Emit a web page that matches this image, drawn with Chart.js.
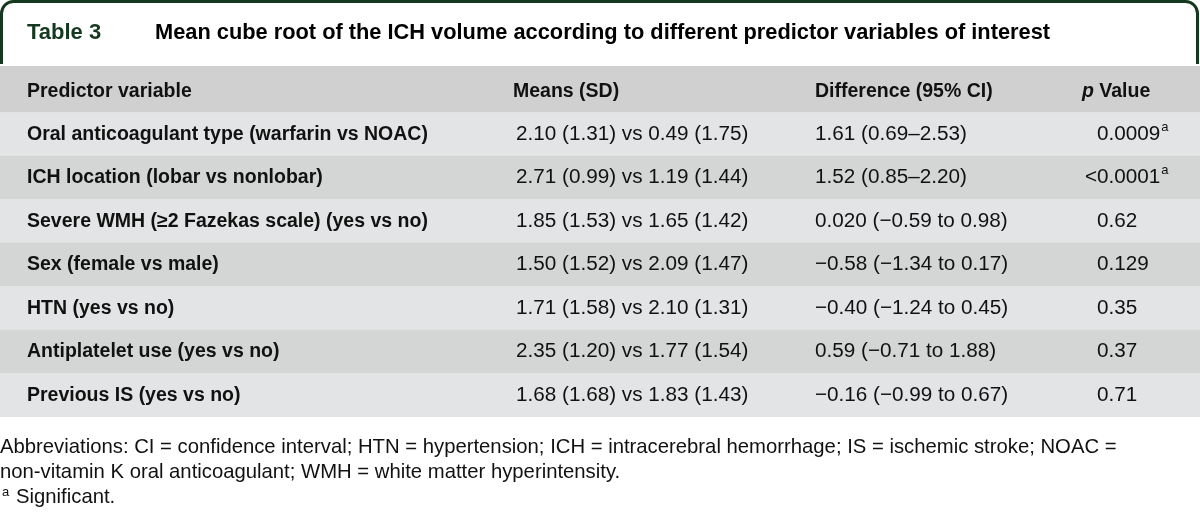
<!DOCTYPE html>
<html>
<head>
<meta charset="utf-8">
<script src="https://cdn.jsdelivr.net/npm/chart.js@4"></script>
<style>
  html, body { margin: 0; padding: 0; background: #ffffff; }
  #wrap { width: 1200px; height: 520px; position: relative; }
  canvas { display: block; }
</style>
</head>
<body>
<div id="wrap"><canvas id="c" width="1200" height="520"></canvas></div>
<script>
// ---------- data ----------
const tableNumber = "Table 3";
const tableTitle = "Mean cube root of the ICH volume according to different predictor variables of interest";
const headers = ["Predictor variable", "Means (SD)", "Difference (95% CI)", "p Value"];
const predictors = [
  "Oral anticoagulant type (warfarin vs NOAC)",
  "ICH location (lobar vs nonlobar)",
  "Severe WMH (\u22652 Fazekas scale) (yes vs no)",
  "Sex (female vs male)",
  "HTN (yes vs no)",
  "Antiplatelet use (yes vs no)",
  "Previous IS (yes vs no)"
];
const means = [
  "2.10 (1.31) vs 0.49 (1.75)",
  "2.71 (0.99) vs 1.19 (1.44)",
  "1.85 (1.53) vs 1.65 (1.42)",
  "1.50 (1.52) vs 2.09 (1.47)",
  "1.71 (1.58) vs 2.10 (1.31)",
  "2.35 (1.20) vs 1.77 (1.54)",
  "1.68 (1.68) vs 1.83 (1.43)"
];
const differences = [
  "1.61 (0.69\u20132.53)",
  "1.52 (0.85\u20132.20)",
  "0.020 (\u22120.59 to 0.98)",
  "\u22120.58 (\u22121.34 to 0.17)",
  "\u22120.40 (\u22121.24 to 0.45)",
  "0.59 (\u22120.71 to 1.88)",
  "\u22120.16 (\u22120.99 to 0.67)"
];
const pValues = ["0.0009", "<0.0001", "0.62", "0.129", "0.35", "0.37", "0.71"];
const significant = [true, true, false, false, false, false, false];
const footnotes = [
  "Abbreviations: CI = confidence interval; HTN = hypertension; ICH = intracerebral hemorrhage; IS = ischemic stroke; NOAC =",
  "non-vitamin K oral anticoagulant; WMH = white matter hyperintensity.",
  "Significant."
];

// ---------- layout / style ----------
const FONT = '"Liberation Sans", Arial, Helvetica, sans-serif';
const GREEN = '#14391f';
const COL_X = [27, 516, 815, 1097];      // column anchors (px from left)
const HEADER_BG = '#cfd0cf';
const DARK_BG = '#d4d5d5';
const LIGHT_BG = '#e3e4e5';
const BOLD_CELL = 'bold 19.5px ' + FONT;
const REG_CELL = '20.7px ' + FONT;

const rowLabels = [headers[0]].concat(predictors);
const rowColors = rowLabels.map((_, i) => i === 0 ? HEADER_BG : (i % 2 === 1 ? LIGHT_BG : DARK_BG));
const cellSpans = rowLabels.map(() => [0, 1]);

function drawPValue(ctx, text, sig, x, y) {
  // decimal-style alignment: leading non-digit prefix goes left of anchor
  const m = text.match(/^([^0-9]*)(.*)$/);
  ctx.textAlign = 'right';
  ctx.fillText(m[1], x, y);
  ctx.textAlign = 'left';
  ctx.fillText(m[2], x, y);
  if (sig) {
    const w = ctx.measureText(m[2]).width;
    const saved = ctx.font;
    ctx.font = '13px ' + FONT;
    ctx.fillText('a', x + w + 1, y - 7);
    ctx.font = saved;
  }
}

const tablePlugin = {
  id: 'tableText',
  beforeDraw(chart) {
    const ctx = chart.ctx;
    ctx.save();
    // title box
    ctx.strokeStyle = GREEN;
    ctx.lineWidth = 3;
    const l = 1.5, r = 1197.5, t = 1.5, b = 64, rad = 12;
    ctx.beginPath();
    ctx.moveTo(l, b);
    ctx.lineTo(l, t + rad);
    ctx.arcTo(l, t, l + rad, t, rad);
    ctx.lineTo(r - rad, t);
    ctx.arcTo(r, t, r, t + rad, rad);
    ctx.lineTo(r, b);
    ctx.stroke();
    ctx.textBaseline = 'alphabetic';
    ctx.fillStyle = GREEN;
    ctx.font = 'bold 22px ' + FONT;
    ctx.textAlign = 'left';
    ctx.fillText(tableNumber, 27, 39);
    ctx.fillStyle = '#000';
    ctx.font = 'bold 21.8px ' + FONT;
    ctx.fillText(tableTitle, 155, 39);
    ctx.restore();
  },
  beforeDatasetsDraw(chart) {
    // extend header band up to the title box
    const ctx = chart.ctx;
    const a = chart.chartArea;
    ctx.save();
    ctx.fillStyle = HEADER_BG;
    ctx.fillRect(a.left, 66, a.right - a.left, a.top - 66 + 1);
    ctx.restore();
  },
  afterDatasetsDraw(chart) {
    const ctx = chart.ctx;
    const ys = chart.scales.y;
    const left = chart.chartArea.left;
    ctx.save();
    ctx.textBaseline = 'middle';
    ctx.fillStyle = '#111';
    // header
    const hy = ys.getPixelForValue(0) + 1;
    ctx.font = BOLD_CELL;
    ctx.textAlign = 'left';
    ctx.fillText(headers[0], left + COL_X[0], hy);
    ctx.fillText(headers[1], left + COL_X[1] - 3, hy);
    ctx.fillText(headers[2], left + COL_X[2], hy);
    // "p Value" with italic p
    const px = left + COL_X[3] - 15;
    ctx.font = 'italic ' + BOLD_CELL;
    ctx.fillText('p', px, hy);
    const pw = ctx.measureText('p').width;
    ctx.font = BOLD_CELL;
    ctx.fillText(headers[3].slice(1), px + pw, hy);
    // body rows
    for (let i = 0; i < predictors.length; i++) {
      const y = ys.getPixelForValue(i + 1);
      ctx.font = BOLD_CELL;
      ctx.textAlign = 'left';
      ctx.fillText(predictors[i], left + COL_X[0], y);
      ctx.font = REG_CELL;
      ctx.fillText(means[i], left + COL_X[1], y);
      ctx.fillText(differences[i], left + COL_X[2], y);
      drawPValue(ctx, pValues[i], significant[i], left + COL_X[3], y);
    }
    ctx.restore();
  },
  afterDraw(chart) {
    const ctx = chart.ctx;
    ctx.save();
    ctx.fillStyle = '#111';
    ctx.textBaseline = 'alphabetic';
    ctx.textAlign = 'left';
    ctx.font = '20.3px ' + FONT;
    ctx.fillText(footnotes[0], 0, 453);
    ctx.fillText(footnotes[1], 0, 478);
    ctx.fillText(footnotes[2], 16, 503);
    ctx.font = '13px ' + FONT;
    ctx.fillText('a', 2, 496);
    ctx.restore();
  }
};

new Chart(document.getElementById('c'), {
  type: 'bar',
  data: {
    labels: rowLabels,
    datasets: [{
      data: cellSpans,
      backgroundColor: rowColors,
      borderWidth: 0,
      borderSkipped: false,
      barPercentage: 1,
      categoryPercentage: 1
    }]
  },
  options: {
    indexAxis: 'y',
    responsive: false,
    animation: false,
    events: [],
    layout: { padding: { top: 69, bottom: 103, left: 0, right: 0 } },
    plugins: { legend: { display: false }, tooltip: { enabled: false }, title: { display: false } },
    scales: {
      x: { display: false, min: 0, max: 1 },
      y: { display: false }
    }
  },
  plugins: [tablePlugin]
});
</script>
</body>
</html>
